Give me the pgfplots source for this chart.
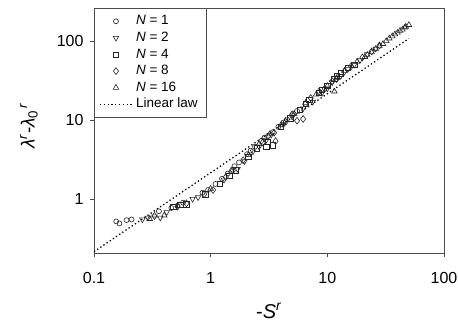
\documentclass[border=0pt]{standalone}
\usepackage{fontspec}
\setmainfont{Liberation Sans}
\usepackage{pgfplots}
\pgfplotsset{compat=1.18}
\pgfplotsset{
  legimg/.style={legend image code/.code={\draw[mark repeat=2,mark phase=2,##1] plot coordinates {(0bp,0bp) (16bp,0bp) (32bp,0bp)};}},
  leglin/.style={legend image code/.code={\draw[##1] (0bp,0bp) -- (32bp,0bp);}},
}
\begin{document}
\begin{tikzpicture}
\begin{axis}[
  xmode=log, ymode=log,
  scale only axis, width=350bp, height=245bp,
  xmin=0.1, xmax=100, ymin=0.207, ymax=262,
  xtick={0.1,1,10,100}, xticklabels={0.1,1,10,100},
  ytick={1,10,100}, yticklabels={1,10,100},
  minor tick length=0pt,
  major tick length=4bp,
  tick align=outside,
  xtick pos=lower, ytick pos=left,
  axis line style={black!70, line width=0.8bp},
  every tick/.style={black!70, line width=0.8bp},
  ticklabel style={font=\fontsize{16bp}{18bp}\selectfont},
  xticklabel style={yshift=-12bp},
  yticklabel style={xshift=-3bp},
  xlabel={-\textit{S}\textsuperscript{\textit{r}}},
  ylabel={\textit{λ}\textsuperscript{\textit{r}}-\textit{λ}\textsubscript{0}\textsuperscript{\,\textit{r}}},
  xlabel style={font=\fontsize{20bp}{22bp}\selectfont, at={(axis description cs:0.5,-0.237)}, anchor=center},
  ylabel style={font=\fontsize{19bp}{21bp}\selectfont, at={(axis description cs:-0.186,0.52)}, anchor=center},
  legend style={at={(rel axis cs:0,1)}, anchor=north west, draw=black!70, line width=0.6bp,
    font=\fontsize{13.5bp}{15bp}\selectfont, inner xsep=5bp, inner ysep=5bp, row sep=0.6bp,
    nodes={inner ysep=1.5bp, inner xsep=3.5bp, text height=10bp, text depth=3bp}},
  legend cell align=left,
]
\addplot[only marks, mark=o, mark size=2.5bp, black!85, mark options={solid, line width=0.6bp, fill=white}, legimg] coordinates {
(0.155,0.52) (0.165,0.49) (0.19,0.54) (0.21,0.55) (0.36,0.70) (0.46,0.77) (0.52,0.82) (0.58,0.90)
(0.85,1.20) (0.95,1.30) (1.1,1.55) (1.25,1.80) (1.6,2.6) (1.75,2.9) (2.05,3.7) (2.2,4.1)
(2.4,4.6) (2.7,5.4) (3.1,6.3) (3.4,7.0) (3.8,8.2) (4.5,10.2) (5.5,13) (6.5,16)
(1.4,2.1) (2.9,6.0) (4.2,9.3) (5.0,11.5)
};
\addlegendentry{\textit{N} = 1}
\addplot[only marks, mark=triangle, mark size=3.2bp, black!85, mark options={solid, line width=0.6bp, fill=white, rotate=180}, legimg] coordinates {
(0.26,0.55) (0.29,0.58) (0.33,0.60) (0.37,0.58) (0.42,0.68) (0.7,1.00) (0.78,1.05) (1.3,1.75)
(1.7,2.4) (1.95,3.0) (2.3,4.0) (2.6,4.6) (3.0,5.6) (3.3,6.5) (4.2,8.8) (5.0,11) (6.2,14)
(7.5,17) (9,22) (11,30) (13,36) (17,50) (22,68) (26,80) (10,25) (15,44) (19,57)
};
\addlegendentry{\textit{N} = 2}
\addplot[only marks, mark=square, mark size=2.7bp, black!85, mark options={solid, line width=0.6bp, fill=white}, legimg] coordinates {
(0.48,0.80) (0.55,0.84) (0.62,0.86) (0.9,1.15) (1.2,1.55) (1.45,1.95) (1.65,2.3) (2.1,3.4)
(2.5,4.4) (3.1,5.3) (3.4,4.8) (3.0,4.6) (4.0,8.2) (4.8,10.5) (5.8,13.5) (7,18) (8.5,22)
(10,27) (11.5,33) (13,39) (15,46) (17,50) (6.5,16) (9,24) (12,36)
};
\addlegendentry{\textit{N} = 4}
\addplot[only marks, mark=diamond, mark size=3.4bp, black!85, mark options={solid, line width=0.6bp, fill=white}, legimg] coordinates {
(0.52,0.80) (0.62,0.88) (0.88,1.15) (1.05,1.3) (1.35,1.9) (1.55,2.3) (1.9,3.1) (2.8,5.2)
(3.5,6.9) (3.6,5.4) (4.4,9.5) (5.5,9.8) (6.2,10.3) (7.2,19) (8.5,23) (9.5,25) (12,33)
(14,41) (16,48) (20,62) (24,74) (28,88) (5.0,11.8) (11,31)
};
\addlegendentry{\textit{N} = 8}
\addplot[only marks, mark=triangle, mark size=3.2bp, black!85, mark options={solid, line width=0.6bp, fill=white}, legimg] coordinates {
(0.3,0.56) (0.33,0.62) (0.4,0.62) (1.0,1.35) (1.5,2.3) (2.1,3.6) (2.6,5.0) (3.2,6.6)
(4.0,8.6) (5.2,12) (6.5,16.5) (8,21) (10,27) (11.5,23) (12,34) (14,42) (18,55) (21,63)
(24,72) (28,86) (32,100) (36,115) (40,128) (44,140) (47,152) (50,160)
(22,67) (26,80) (30,92) (34,108) (38,122) (42,135) (46,148)
};
\addlegendentry{\textit{N} = 16}
\addplot[black, line width=1.3bp, dash pattern=on 1.3bp off 2.5bp, leglin] coordinates {(0.1,0.215) (50,107.5)};
\addlegendentry{Linear law}
\coordinate (bl) at (rel axis cs:0,0);
\coordinate (tr) at (rel axis cs:1,1);
\end{axis}
\pgfresetboundingbox
\path[use as bounding box] ([xshift=-94bp,yshift=-71bp]bl) rectangle ([xshift=14bp,yshift=8bp]tr);
\end{tikzpicture}
\end{document}
